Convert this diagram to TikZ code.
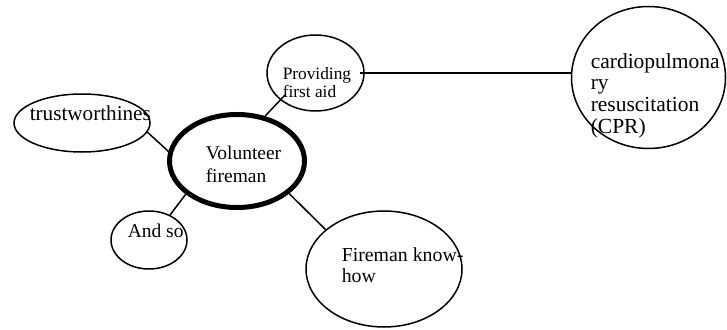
\documentclass[tikz,border=0pt]{standalone}
\usepackage{fontspec}
\setmainfont{Liberation Serif}
\usetikzlibrary{shapes.geometric,calc}

\begin{document}
\begin{tikzpicture}[x=0.6pt,y=-0.6pt,line width=0.9pt]
\tikzstyle{bubble}=[draw,ellipse,inner sep=0pt]
\tikzstyle{centre}=[bubble,line width=3pt]
\tikzstyle{words}=[inner sep=0pt,anchor=base west,align=left]
\useasboundingbox (0,0) rectangle (727,330);
% bubbles
\node[bubble,minimum width=81.6pt,minimum height=34.8pt] (trust) at (82,123) {};
\node[centre,minimum width=81pt,minimum height=55.8pt] (vol) at (237,161) {};
\node[bubble,minimum width=45.6pt,minimum height=34.8pt] (andso) at (149,240) {};
\node[bubble,minimum width=58.2pt,minimum height=45.6pt] (provid) at (315.5,73) {};
\node[bubble,minimum width=92.4pt,minimum height=85.2pt] (cpr) at (648.5,77.5) {};
\node[bubble,minimum width=93.6pt,minimum height=69.6pt] (fire) at (384,269) {};
% texts (base = last line)
\node[words,font=\fontsize{12.7}{14}\selectfont] (trusttext) at (29,120) {trustworthines};
\node[words,font=\fontsize{11.7}{13.8}\selectfont] (voltext) at (205,182) {Volunteer\\fireman};
\node[words,font=\fontsize{11.7}{13.8}\selectfont] (andsotext) at (127,237) {And so};
\node[words,font=\fontsize{10.4}{10.8}\selectfont] (providtext) at (282,98) {Providing\\first aid};
\node[words,font=\fontsize{12.9}{13}\selectfont] (cprtext) at (590,133) {cardiopulmona\\ry\\resuscitation\\(CPR)};
\node[words,font=\fontsize{11.9}{12.6}\selectfont] (firetext) at (341,282) {Fireman know-\\how};
% links
\draw (trust.-8) -- (vol.172);
\draw (andso.50) -- (vol.213);
\draw (vol.58) -- ($(provid.center)+(-30.5,22)$);
\draw (vol.-32) -- (fire.146.5);
\draw ([xshift=-3pt]provid.east) -- (provid.east -| cpr.west);
\end{tikzpicture}
\end{document}
